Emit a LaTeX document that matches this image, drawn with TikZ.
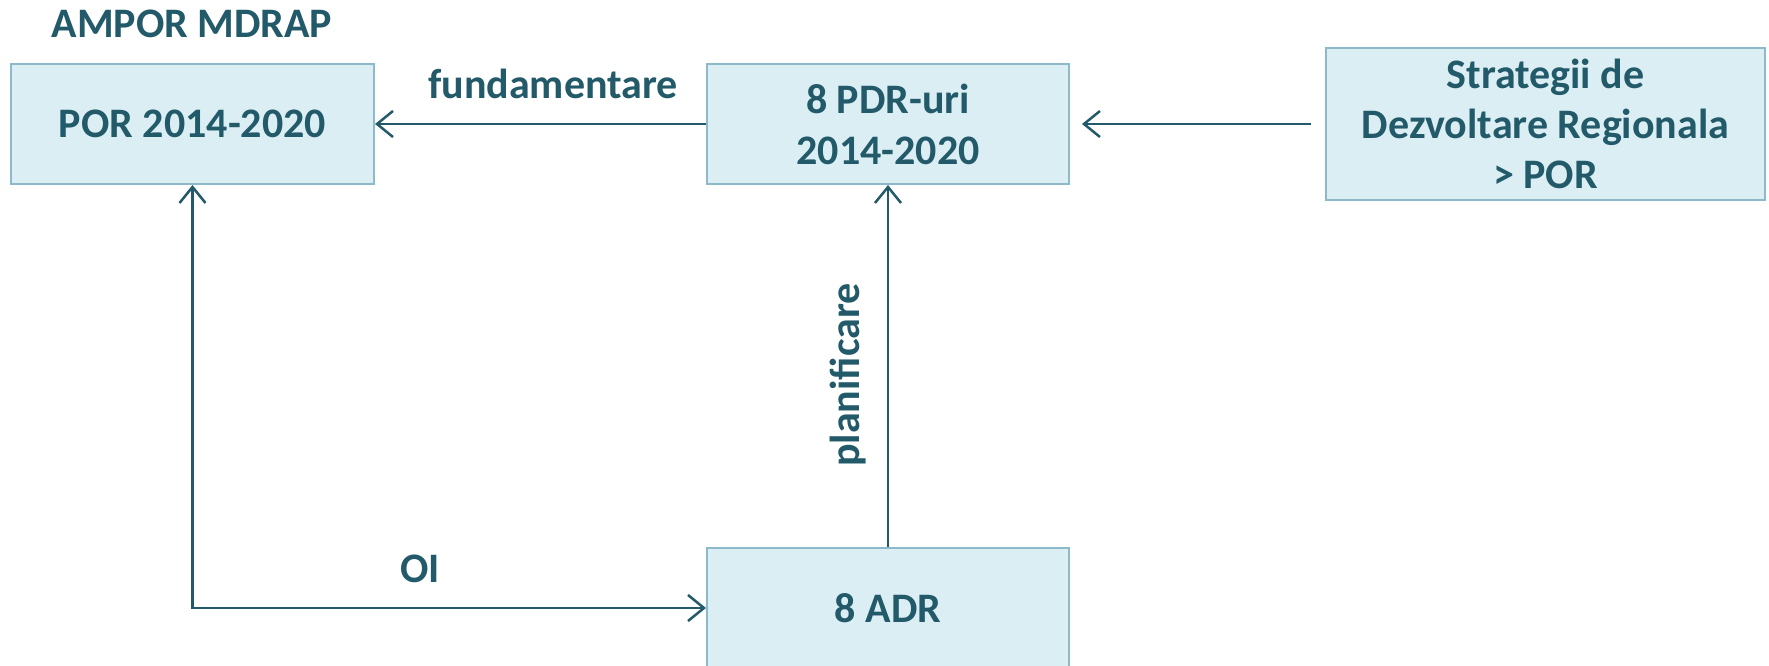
\documentclass[tikz,border=0pt]{standalone}
\usepackage{fontspec}
\setmainfont{Carlito}
\usetikzlibrary{arrows.meta}
\definecolor{txt}{HTML}{235A6A}
\definecolor{boxfill}{HTML}{DBEEF4}
\definecolor{boxline}{HTML}{8CBACB}
\tikzset{
  box/.style={draw=boxline, fill=boxfill, line width=2pt, inner sep=0pt, align=center, text=txt,
    font=\fontsize{42}{51}\selectfont\bfseries},
  lbl/.style={text=txt, inner sep=0pt, font=\fontsize{42}{50}\selectfont\bfseries},
  conn/.style={draw=txt, line width=2.5pt, arrows={-Straight Barb[length=16pt,width=26pt,line width=2.5pt]}}
}
\begin{document}
\begin{tikzpicture}[x=1pt,y=-1pt]
\useasboundingbox (0,0) rectangle (1769,666);
\begin{scope}
\clip (0,0) rectangle (1769,666);
\node[box, minimum width=363pt, minimum height=120pt] (por) at (192.5,124) {POR 2014-2020};
\node[box, minimum width=362pt, minimum height=120pt] (pdr) at (888,124) {8 PDR-uri\\2014-2020};
\node[box, minimum width=439pt, minimum height=152pt, font=\fontsize{42}{50}\selectfont\bfseries] (str) at (1545.5,124) {Strategii de\\Dezvoltare Regionala\\> POR};
\node[box, minimum width=362pt, minimum height=120pt] (adr) at (888,608) {8 ADR};
\end{scope}
\node[lbl, font=\fontsize{42}{50}\selectfont\bfseries] (ampor) at (192,24) {AMPOR MDRAP};
\node[lbl] (fund) at (553,84) {fundamentare};
\node[lbl] (oi) at (420,569) {OI};
\node[lbl, rotate=90] (plan) at (848,375) {planificare};
\draw[conn] (pdr.west) -- (por.east);
\draw[conn, shorten <=14pt, shorten >=12pt] (str.west) -- (pdr.east);
\draw[conn] (adr.north) -- (pdr.south);
\draw[conn, arrows={Straight Barb[length=16pt,width=26pt,line width=2.5pt]-Straight Barb[length=16pt,width=26pt,line width=2.5pt]}] (por.south) |- (adr.west);
\end{tikzpicture}
\end{document}
